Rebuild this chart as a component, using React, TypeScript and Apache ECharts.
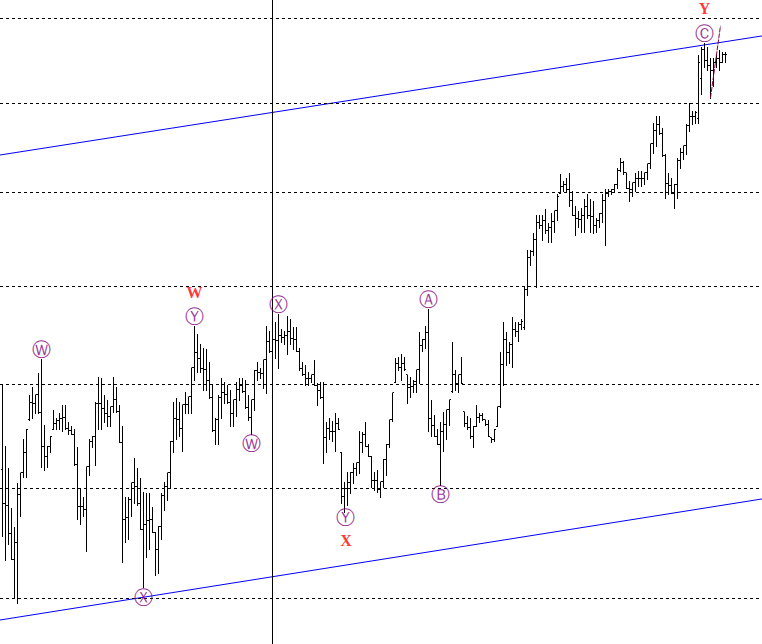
import { useEffect, useRef } from "react";
import * as echarts from "echarts";

// OHLC price bars, one per session, left to right
const opens = [
  107.04, 105.13, 105.02, 103.49, 102.07, 103.0, 105.62, 106.87, 107.99, 109.92,
  110.93, 110.85, 111.37, 110.33, 108.34, 107.79, 108.37, 109.35, 109.69, 109.84,
  110.01, 110.07, 109.4, 109.29, 109.06, 107.33, 104.99, 104.96, 104.83, 107.21,
  108.63, 108.94, 110.88, 110.85, 110.56, 110.3, 110.1, 110.67, 111.11, 110.38,
  108.6, 104.25, 104.34, 105.35, 106.29, 106.09, 105.13, 103.71, 103.95, 104.17,
  104.25, 103.55, 102.62, 103.87, 105.56, 106.09, 106.87, 108.65, 109.98, 109.95,
  109.43, 110.79, 110.79, 111.25, 112.98, 113.87, 113.56, 112.92, 112.86, 112.24,
  111.19, 109.26, 109.92, 111.19, 111.51, 111.42, 110.9, 110.3, 111.08, 111.71,
  111.94, 111.54, 110.64, 110.07, 111.08, 112.8, 112.67, 112.61, 113.47, 114.54,
  113.93, 114.66, 114.6, 114.91, 114.79, 114.94, 115.15, 114.76, 114.69, 113.96,
  112.95, 112.55, 112.34, 112.34, 112.55, 111.94, 111.65, 111.19, 108.88, 109.4,
  109.23, 109.2, 109.69, 108.02, 105.51, 105.97, 106.32, 106.87, 107.1, 107.44,
  108.6, 109.06, 108.37, 107.79, 106.4, 106.4, 105.92, 106.35, 107.62, 108.48,
  109.92, 112.12, 113.26, 113.01, 113.26, 112.55, 111.83, 111.88, 112.18, 112.86,
  114.33, 114.69, 115.12, 110.01, 109.58, 108.94, 108.48, 109.23, 109.63, 110.5,
  111.54, 112.55, 112.03, 112.55, 110.38, 109.72, 109.46, 108.91, 109.52, 110.04,
  110.13, 109.92, 109.63, 108.88, 108.77, 109.52, 110.67, 113.16, 114.69, 113.9,
  114.39, 115.31, 115.15, 115.61, 115.43, 117.76, 119.8, 120.15, 120.9, 122.04,
  121.85, 122.14, 121.54, 121.73, 122.11, 122.8, 123.94, 124.4, 124.51, 124.17,
  123.43, 122.48, 122.26, 122.2, 122.48, 123.08, 122.48, 122.39, 121.85, 122.17,
  122.61, 123.43, 123.94, 124.03, 124.2, 124.54, 125.42, 125.96, 125.28, 124.27,
  124.17, 124.61, 124.91, 124.91, 124.91, 125.28, 125.89, 127.24, 128.11, 128.52,
  127.91, 126.43, 124.57, 124.44, 123.94, 124.54, 126.09, 126.66, 127.1, 128.45,
  129.06, 129.1, 128.92, 131.71, 133.71, 133.0, 132.64, 132.29, 132.86, 133.14,
  132.86, 133.36,
];
const highs = [
  112.0, 108.37, 107.15, 104.91, 103.82, 106.29, 106.87, 108.77, 109.35, 111.37,
  111.83, 111.37, 112.67, 113.53, 109.63, 108.37, 108.94, 110.5, 110.04, 110.33,
  110.79, 110.79, 109.75, 109.52, 109.35, 108.31, 106.0, 105.51, 107.21, 108.77,
  108.94, 110.96, 112.43, 112.37, 111.37, 111.08, 110.67, 112.43, 111.83, 110.79,
  109.52, 105.51, 105.51, 106.29, 107.73, 107.15, 106.58, 105.78, 105.73, 105.73,
  104.96, 103.55, 103.87, 105.73, 106.35, 106.87, 108.65, 110.96, 111.19, 110.96,
  110.79, 111.54, 111.25, 112.98, 115.49, 115.0, 114.39, 114.2, 114.08, 113.35,
  111.94, 110.04, 111.37, 112.37, 112.12, 111.94, 111.65, 111.08, 112.12, 112.37,
  112.37, 112.24, 111.37, 111.08, 112.86, 113.35, 112.98, 113.47, 115.49, 115.18,
  115.31, 115.73, 116.22, 115.31, 115.18, 116.1, 115.92, 115.43, 115.43, 114.2,
  113.35, 113.16, 112.73, 112.55, 113.47, 112.06, 112.12, 112.12, 109.75, 110.04,
  109.81, 110.33, 110.04, 108.02, 106.35, 106.92, 106.92, 107.44, 107.44, 109.23,
  109.17, 109.75, 108.48, 107.79, 106.92, 107.04, 106.35, 107.62, 108.48, 109.92,
  111.48, 113.59, 113.65, 113.78, 113.65, 112.55, 112.43, 112.24, 112.86, 115.12,
  114.69, 115.49, 116.53, 111.08, 110.21, 109.35, 109.75, 110.38, 110.5, 111.08,
  114.51, 112.86, 112.55, 113.65, 110.38, 110.1, 110.04, 109.52, 110.79, 110.33,
  110.33, 109.92, 109.92, 108.88, 109.35, 110.67, 113.9, 115.73, 115.12, 114.51,
  116.04, 115.73, 115.73, 115.92, 117.94, 120.27, 120.27, 121.35, 122.48, 122.48,
  122.48, 122.93, 121.98, 122.67, 122.8, 123.87, 125.21, 124.74, 124.94, 125.28,
  124.07, 123.12, 122.8, 122.99, 123.56, 123.87, 123.56, 123.43, 122.29, 122.61,
  123.87, 124.2, 124.2, 124.2, 124.54, 125.62, 126.29, 126.09, 125.28, 124.74,
  124.61, 125.28, 125.42, 125.42, 125.28, 125.89, 127.24, 128.65, 129.12, 129.12,
  128.31, 126.56, 125.28, 124.94, 124.54, 126.29, 126.97, 127.1, 128.58, 130.0,
  129.46, 129.46, 133.36, 133.93, 134.21, 133.93, 133.14, 133.14, 133.36, 133.71,
  133.57, 133.57,
];
const lows = [
  103.33, 102.02, 102.89, 102.07, 100.0, 99.73, 104.42, 106.63, 106.63, 109.92,
  110.04, 110.33, 110.33, 107.21, 107.04, 107.21, 108.02, 109.35, 109.35, 109.35,
  109.23, 109.35, 109.06, 109.06, 107.33, 104.25, 103.98, 104.42, 102.51, 106.75,
  108.31, 107.33, 109.35, 109.35, 109.75, 109.52, 109.52, 110.38, 110.38, 108.6,
  101.91, 103.0, 103.16, 104.42, 105.18, 105.07, 103.71, 100.6, 102.18, 102.62,
  103.55, 101.25, 101.36, 103.16, 104.8, 105.35, 106.0, 108.02, 108.77, 108.94,
  108.08, 110.33, 110.33, 110.33, 112.24, 112.73, 112.73, 111.65, 111.65, 111.19,
  109.23, 108.48, 108.48, 110.04, 110.9, 110.9, 109.52, 109.52, 110.1, 111.08,
  111.54, 110.62, 109.92, 109.06, 110.5, 112.24, 112.37, 111.77, 111.48, 113.9,
  112.55, 113.59, 112.98, 114.51, 114.39, 113.78, 114.39, 114.08, 113.96, 112.86,
  112.55, 111.94, 111.94, 112.12, 111.94, 110.79, 111.19, 107.44, 108.02, 108.77,
  108.65, 108.08, 109.35, 105.18, 104.69, 105.07, 105.73, 106.29, 106.75, 106.87,
  108.02, 108.37, 107.79, 106.06, 105.89, 105.78, 105.51, 106.06, 106.75, 108.31,
  109.81, 112.12, 112.86, 112.24, 112.86, 110.9, 111.25, 111.54, 111.54, 112.06,
  113.96, 114.2, 109.23, 108.94, 108.94, 108.48, 106.17, 108.08, 108.77, 109.63,
  111.54, 111.65, 111.54, 112.06, 109.52, 109.35, 108.88, 108.31, 109.52, 109.75,
  109.92, 109.63, 108.94, 108.6, 108.65, 109.52, 110.67, 111.94, 113.16, 113.29,
  113.04, 114.88, 114.57, 115.31, 115.31, 117.45, 119.33, 119.96, 117.94, 121.66,
  120.9, 121.35, 120.78, 120.78, 121.41, 122.17, 123.94, 124.07, 124.07, 123.12,
  122.48, 121.22, 121.73, 121.41, 121.41, 122.29, 121.41, 121.35, 121.41, 121.73,
  122.04, 120.59, 123.75, 123.87, 124.07, 124.27, 125.42, 125.21, 124.27, 123.43,
  123.75, 124.07, 124.4, 124.4, 124.54, 124.88, 125.62, 126.63, 127.1, 127.91,
  126.43, 123.62, 123.87, 123.94, 122.99, 123.62, 125.62, 126.22, 126.56, 128.11,
  128.58, 128.65, 128.65, 130.64, 132.5, 132.29, 130.36, 131.21, 132.5, 132.29,
  132.86, 132.86,
];
const closes = [
  105.13, 105.02, 103.49, 102.07, 103.0, 105.62, 106.87, 107.99, 109.35, 110.93,
  110.85, 111.37, 110.33, 108.34, 107.79, 108.37, 108.94, 109.69, 109.84, 110.01,
  110.07, 109.4, 109.29, 109.06, 107.33, 104.99, 104.96, 104.83, 107.21, 108.63,
  108.94, 110.88, 110.85, 110.56, 110.3, 110.1, 110.67, 111.11, 110.38, 108.6,
  104.25, 104.34, 105.35, 106.29, 106.09, 105.13, 103.71, 103.95, 104.17, 104.25,
  103.55, 102.62, 103.87, 105.56, 106.09, 106.87, 108.65, 109.98, 109.95, 109.43,
  110.79, 110.79, 111.25, 112.98, 113.87, 113.56, 112.92, 112.86, 112.24, 111.19,
  109.26, 109.92, 111.19, 111.51, 111.42, 110.9, 110.3, 111.08, 111.71, 111.94,
  111.54, 110.64, 110.07, 111.08, 112.8, 112.67, 112.61, 113.47, 114.54, 113.93,
  114.66, 114.6, 114.91, 114.79, 114.94, 115.15, 114.76, 114.69, 113.96, 112.95,
  112.55, 112.34, 112.34, 112.55, 111.94, 111.65, 111.19, 108.88, 109.4, 109.23,
  109.2, 109.69, 109.35, 105.51, 105.97, 106.32, 106.87, 107.1, 107.44, 108.6,
  109.06, 108.37, 107.79, 106.4, 106.4, 105.92, 106.35, 107.62, 108.48, 109.92,
  111.48, 113.26, 113.01, 113.26, 112.86, 111.83, 111.88, 112.18, 112.86, 114.33,
  114.69, 115.12, 110.01, 109.58, 108.94, 108.48, 109.23, 109.63, 110.5, 111.08,
  112.55, 112.03, 112.55, 112.06, 109.72, 109.46, 108.91, 109.52, 110.04, 110.13,
  109.92, 109.63, 108.94, 108.77, 109.35, 110.67, 113.16, 114.69, 113.9, 114.39,
  115.31, 115.15, 115.61, 115.8, 117.76, 119.8, 120.15, 120.9, 122.04, 121.85,
  122.14, 121.54, 121.73, 122.11, 122.8, 123.75, 124.4, 124.51, 124.17, 123.43,
  122.48, 122.26, 122.2, 122.48, 123.08, 122.48, 122.39, 121.85, 122.17, 122.61,
  123.43, 123.94, 124.03, 124.2, 124.54, 125.42, 125.96, 125.28, 124.27, 124.17,
  124.61, 124.91, 124.91, 124.91, 125.28, 125.89, 127.24, 128.11, 128.52, 127.91,
  126.43, 124.57, 124.44, 123.94, 124.54, 126.09, 126.66, 127.1, 128.45, 129.06,
  129.1, 129.33, 132.86, 133.71, 133.0, 132.64, 132.29, 132.86, 133.14, 132.86,
  133.36, 133.36,
];

// horizontal price levels (dashed)
const gridLevels = [100, 106, 112, 118, 124, 130, 136];
// vertical cursor line at bar
const cursorBar = 90;
// channel lines: [bar, price] end points
const upperChannel = [
  [-0.8333, 126.47],
  [253.1667, 134.71],
];
const lowerChannel = [
  [-0.8333, 98.84],
  [253.1667, 105.39],
];
const trendLine = [
  [236, 130.36],
  [239.33, 135.43],
];

// wave labels
const labelTexts = ["Ⓦ", "Ⓨ", "W", "Ⓦ", "Ⓧ", "Ⓧ", "Ⓨ", "X", "Ⓐ", "Ⓑ", "Ⓒ", "Y"];
const labelBars = [13, 64, 64, 83, 92, 47, 114.5, 114.5, 142, 146, 234, 234];
const labelPrices = [
  113.53, 115.49, 115.49, 109.06, 116.22, 100.6, 104.69, 104.69, 116.53, 106.17,
  134.21, 134.21,
];
const labelKinds = ["c", "c", "r", "c", "c", "c", "c", "r", "c", "c", "c", "r"];
const labelDy = [-10, -10, -34, 9, -10, 10, 5, 29, -10, 9, -10, -34];

export default function App() {
  const ref = useRef<HTMLDivElement>(null);

  useEffect(() => {
    if (!ref.current) return;
    const chart = echarts.init(ref.current, null, { renderer: "svg" });

    const ohlc = opens.map((o, i) => [i, o, highs[i], lows[i], closes[i]]);

    const labelData = labelTexts.map((t, i) => ({
      value: [labelBars[i], labelPrices[i]],
      label: {
        show: true,
        position: "inside",
        formatter: t,
        offset: [0, labelDy[i]],
        color: labelKinds[i] === "r" ? "#ff0000" : "#800080",
        fontSize: labelKinds[i] === "r" ? 16 : 19,
        fontWeight: labelKinds[i] === "r" ? "bold" : "normal",
        fontFamily: labelKinds[i] === "r" ? "Liberation Serif" : "DejaVu Sans",
      },
    }));

    const stroke = { stroke: "#000", lineWidth: 1 };

    chart.setOption({
      animation: false,
      backgroundColor: "#ffffff",
      grid: { left: 0, right: 0, top: 0, bottom: 0, containLabel: false },
      xAxis: {
        type: "value",
        min: -0.8333,
        max: 253.1667,
        show: false,
        splitLine: { show: false },
      },
      yAxis: {
        type: "log",
        min: 97.591,
        max: 137.3,
        show: false,
        splitLine: { show: false },
      },
      series: [
        {
          type: "line",
          data: upperChannel,
          symbol: "none",
          silent: true,
          lineStyle: { color: "#0000ff", width: 1 },
          z: 1,
          markLine: {
            silent: true,
            symbol: ["none", "none"],
            label: { show: false },
            lineStyle: { color: "#000", width: 1, type: [3, 3] },
            data: gridLevels.map((v) => ({ yAxis: v })),
          },
        },
        {
          type: "line",
          data: lowerChannel,
          symbol: "none",
          silent: true,
          lineStyle: { color: "#0000ff", width: 1 },
          z: 1,
          markLine: {
            silent: true,
            symbol: ["none", "none"],
            label: { show: false },
            lineStyle: { color: "#000", width: 1, type: "solid" },
            data: [{ xAxis: cursorBar }],
          },
        },
        {
          type: "line",
          data: trendLine,
          symbol: "none",
          silent: true,
          lineStyle: { color: "#800040", width: 1, type: [5, 1] },
          z: 4,
        },
        {
          type: "custom",
          data: ohlc,
          silent: true,
          encode: { x: 0, y: [1, 2, 3, 4] },
          z: 3,
          renderItem: (params: any, api: any) => {
            const i = api.value(0);
            const o = api.coord([i, api.value(1)]);
            const h = api.coord([i, api.value(2)]);
            const l = api.coord([i, api.value(3)]);
            const c = api.coord([i, api.value(4)]);
            const cx = Math.floor(o[0]) + 0.5;
            const yh = Math.round(h[1]);
            const yl = Math.round(l[1]);
            const yo = Math.floor(o[1]) + 0.5;
            const yc = Math.floor(c[1]) + 0.5;
            return {
              type: "group",
              children: [
                { type: "line", shape: { x1: cx, y1: yh, x2: cx, y2: yl + 1 }, style: stroke },
                { type: "line", shape: { x1: cx - 1.5, y1: yo, x2: cx, y2: yo }, style: stroke },
                { type: "line", shape: { x1: cx, y1: yc, x2: cx + 1.5, y2: yc }, style: stroke },
              ],
            };
          },
        },
        {
          type: "scatter",
          data: labelData,
          symbolSize: 1,
          itemStyle: { color: "rgba(0,0,0,0)" },
          silent: true,
          z: 5,
        },
      ],
    });

    return () => chart.dispose();
  }, []);

  return (
    <div
      ref={ref}
      style={{ position: "absolute", left: 0, top: 0, width: 762, height: 644 }}
    />
  );
}
